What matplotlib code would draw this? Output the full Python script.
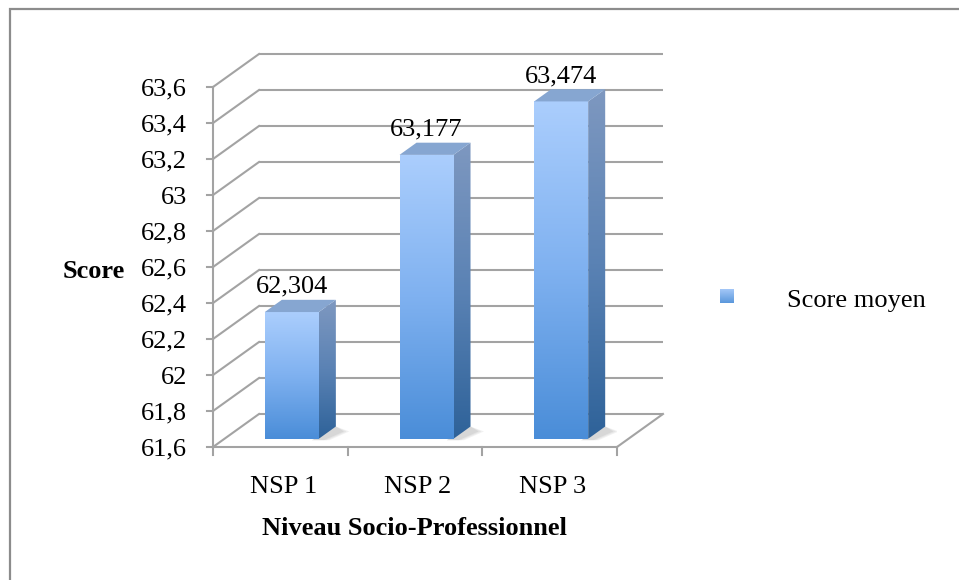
import numpy as np
import matplotlib
matplotlib.use("Agg")
import matplotlib.pyplot as plt
from matplotlib.patches import Polygon, Rectangle
from matplotlib.colors import LinearSegmentedColormap
from matplotlib.transforms import offset_copy

# ---------------- data ----------------
categories = ["NSP 1", "NSP 2", "NSP 3"]
values = [62.304, 63.177, 63.474]
value_labels = ["62,304", "63,177", "63,474"]
tick_values = [61.6, 61.8, 62.0, 62.2, 62.4, 62.6, 62.8, 63.0, 63.2, 63.4, 63.6]
tick_labels = ["61,6", "61,8", "62", "62,2", "62,4", "62,6", "62,8", "63", "63,2", "63,4", "63,6"]
series_name = "Score moyen"
y_title = "Score"
x_title = "Niveau Socio-Professionnel"

# ---------------- style ----------------
W, H = 959, 580
FONT = "Liberation Serif"
FS = 19
GRID = "#A3A3A3"
GLW = 1.5

cm_front = LinearSegmentedColormap.from_list("front", ["#4A8DD8", "#7FB1F0", "#ABCEFD"])
cm_side = LinearSegmentedColormap.from_list("side", ["#2E6299", "#5A82B4", "#7E98C0"])
TOP_COL = "#86A6D1"

fig = plt.figure(figsize=(W / 100, H / 100), dpi=100)
fig.patch.set_facecolor("white")

# front plane of the 3D box
ax_l, ax_r, ax_t, ax_b = 213, 617, 87, 447
ax = fig.add_axes([ax_l / W, (H - ax_b) / H, (ax_r - ax_l) / W, (ax_b - ax_t) / H])
n = len(categories)
ymin, ymax = tick_values[0], tick_values[-1]
ax.set_xlim(0, n)
ax.set_ylim(ymin, ymax)
ax.axis("off")

px_x = (ax_r - ax_l) / n
px_y = (ax_b - ax_t) / (ymax - ymin)
DX = 46 / px_x
DY = 33 / px_y

# back wall + left wall gridlines
for v in tick_values:
    ax.plot([DX, n + DX], [v + DY, v + DY], color=GRID, lw=GLW, clip_on=False, zorder=1,
            solid_capstyle="butt")
    ax.plot([0, DX], [v, v + DY], color=GRID, lw=GLW, clip_on=False, zorder=1)
ax.plot([n, n + DX], [ymin, ymin + DY], color=GRID, lw=GLW, clip_on=False, zorder=1)
ax.plot([0, n], [ymin, ymin], color=GRID, lw=GLW, clip_on=False, zorder=1)
ax.plot([0, 0], [ymin, ymax], color=GRID, lw=GLW, clip_on=False, zorder=1)
tl = 6 / px_x
for v in tick_values:
    ax.plot([-tl, 0], [v, v], color=GRID, lw=GLW, clip_on=False, zorder=1)
bl = 8 / px_y
for i in range(n + 1):
    ax.plot([i, i], [ymin, ymin - bl], color=GRID, lw=GLW, clip_on=False, zorder=1)

# tick labels
t_ticks = offset_copy(ax.transData, fig=fig, x=-26, y=-8.5, units="dots")
for v, lab in zip(tick_values, tick_labels):
    ax.text(0, v, lab, transform=t_ticks, ha="right", va="baseline",
            fontsize=FS, family=FONT, color="black", clip_on=False)

# bars
d0, d1 = 0.25, 0.62
bw = 54 / px_x
grad = np.linspace(0, 1, 256).reshape(-1, 1)
t_val = offset_copy(ax.transData, fig=fig, x=0, y=7, units="dots")
for i, (cat, val, vl) in enumerate(zip(categories, values, value_labels)):
    cx = i + 0.5 + d0 * DX
    xl, xr = cx - bw / 2, cx + bw / 2
    b0 = ymin + d0 * DY
    top = val + d0 * DY
    ddx, ddy = (d1 - d0) * DX, (d1 - d0) * DY

    # soft shadow on floor (layered for softness)
    for k, a in enumerate([0.10, 0.10, 0.12]):
        g = 0.02 * (2 - k)
        sh = Polygon([(xr - 0.05, b0 - 0.008), (xr + ddx * 0.3 + g, b0 - 0.008),
                      (xr + ddx + 0.06 + g, b0 + ddy * 0.6), (xr + ddx, b0 + ddy)],
                     closed=True, facecolor="#7A7A7A", edgecolor="none", alpha=a, zorder=2)
        ax.add_patch(sh)

    ax.imshow(grad, cmap=cm_front, origin="lower", aspect="auto",
              extent=(xl, xr, b0, top), zorder=3, interpolation="bilinear")
    side = Polygon([(xr, b0), (xr + ddx, b0 + ddy), (xr + ddx, top + ddy), (xr, top)],
                   closed=True, transform=ax.transData, facecolor="none", edgecolor="none")
    im2 = ax.imshow(grad, cmap=cm_side, origin="lower", aspect="auto",
                    extent=(xr, xr + ddx, b0, top + ddy), zorder=3, interpolation="bilinear")
    im2.set_clip_path(side)
    topf = Polygon([(xl, top), (xr, top), (xr + ddx, top + ddy), (xl + ddx, top + ddy)],
                   closed=True, facecolor=TOP_COL, edgecolor="none", zorder=4)
    ax.add_patch(topf)

    ax.text(i + 0.5 + d0 * DX, val + d1 * DY, vl, transform=t_val, ha="center",
            va="baseline", fontsize=FS, family=FONT, color="black", clip_on=False, zorder=5)

    t_cat = offset_copy(ax.transData, fig=fig, x=3, y=-46, units="dots")
    ax.text(i + 0.5, ymin, cat, transform=t_cat, ha="center", va="baseline",
            fontsize=FS, family=FONT, color="black", clip_on=False)

ax.set_xlim(0, n)
ax.set_ylim(ymin, ymax)

# axis titles
fig.text(94 / W, 1 - 278 / H, y_title, ha="center", va="baseline",
         fontsize=FS, family=FONT, fontweight="bold")
fig.text(414 / W, 1 - 535 / H, x_title, ha="center", va="baseline",
         fontsize=FS, family=FONT, fontweight="bold")

# legend
lax = fig.add_axes([720 / W, 1 - 303 / H, 14 / W, 14 / H])
lax.imshow(grad, cmap=LinearSegmentedColormap.from_list("lg", ["#5A97DC", "#A9CBF9"]),
           origin="lower", aspect="auto", extent=(0, 1, 0, 1))
lax.axis("off")
fig.text(787 / W, 1 - 307 / H, series_name, ha="left", va="baseline",
         fontsize=FS, family=FONT)

# outer chart frame
frame = Rectangle((10 / W, -0.1), 2.0, 1 - 9 / H + 0.1, transform=fig.transFigure,
                  facecolor="none", edgecolor="#8C8C8C", lw=1.6, clip_on=False)
fig.patches.append(frame)

fig.savefig("out.png", dpi=100)
